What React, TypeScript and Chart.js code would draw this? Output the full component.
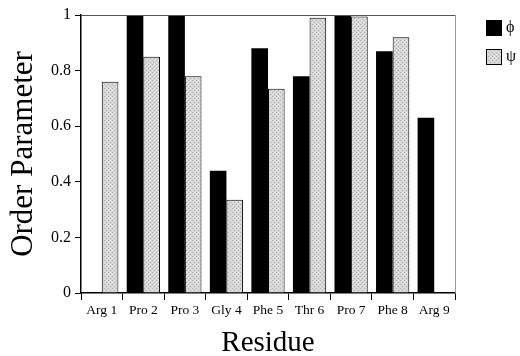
import React, { useEffect, useRef } from "react";
import { Chart, registerables } from "chart.js";

Chart.register(...registerables);

const residues = ["Arg 1", "Pro 2", "Pro 3", "Gly 4", "Phe 5", "Thr 6", "Pro 7", "Phe 8", "Arg 9"];
const phiValues: (number | null)[] = [null, 1.0, 1.0, 0.44, 0.88, 0.78, 1.0, 0.87, 0.63];
const psiValues: (number | null)[] = [0.76, 0.85, 0.78, 0.335, 0.735, 0.99, 0.995, 0.92, null];
const seriesLabels = ["ϕ", "ψ"];
const yTickValues = [0, 0.2, 0.4, 0.6, 0.8, 1];

const SERIF = "'Liberation Serif', 'Times New Roman', serif";

function makePattern(): CanvasPattern | string {
  const c = document.createElement("canvas");
  c.width = 4;
  c.height = 4;
  const ctx = c.getContext("2d");
  if (!ctx) return "#c8c8c8";
  ctx.fillStyle = "#d6d6d6";
  ctx.fillRect(0, 0, 4, 4);
  ctx.fillStyle = "#b0b0b0";
  ctx.fillRect(0, 0, 1, 1);
  ctx.fillRect(2, 2, 1, 1);
  ctx.fillStyle = "#e8e8e8";
  ctx.fillRect(2, 0, 1, 1);
  ctx.fillRect(0, 2, 1, 1);
  const p = ctx.createPattern(c, "repeat");
  return p || "#c8c8c8";
}

export default function App() {
  const ref = useRef<HTMLCanvasElement | null>(null);

  useEffect(() => {
    document.body.style.margin = "0";
    const canvas = ref.current;
    if (!canvas) return;
    const psiFill = makePattern();

    const framePlugin = {
      id: "frameAndLegend",
      afterDraw(chart: any) {
        const { ctx, chartArea } = chart;
        ctx.save();
        ctx.strokeStyle = "#555";
        ctx.lineWidth = 1;
        ctx.beginPath();
        ctx.moveTo(chartArea.left, chartArea.top + 0.5);
        ctx.lineTo(chartArea.right, chartArea.top + 0.5);
        ctx.stroke();
        ctx.strokeStyle = "#999";
        ctx.beginPath();
        ctx.moveTo(chartArea.right + 0.5, chartArea.top);
        ctx.lineTo(chartArea.right + 0.5, chartArea.bottom);
        ctx.stroke();

        const x0 = chartArea.right + 31;
        const ys = [20, 49];
        chart.data.datasets.forEach((ds: any, i: number) => {
          const y = ys[i];
          ctx.fillStyle = ds.backgroundColor;
          ctx.fillRect(x0, y, 16, 16);
          ctx.strokeStyle = "#000";
          ctx.lineWidth = 1;
          ctx.strokeRect(x0 + 0.5, y + 0.5, 15, 15);
          ctx.fillStyle = "#000";
          ctx.font = `16px ${SERIF}`;
          ctx.textBaseline = "middle";
          ctx.textAlign = "left";
          ctx.fillText(ds.label, x0 + 20, y + 8);
        });
        ctx.restore();
      },
    };

    const chart = new Chart(canvas, {
      type: "bar",
      data: {
        labels: residues,
        datasets: [
          {
            label: seriesLabels[0],
            data: phiValues,
            backgroundColor: "#000",
            borderColor: "#000",
            borderWidth: 0,
          },
          {
            label: seriesLabels[1],
            data: psiValues,
            backgroundColor: psiFill as any,
            borderColor: "#000",
            borderWidth: 1,
          },
        ],
      },
      options: {
        animation: false,
        responsive: false,
        maintainAspectRatio: false,
        layout: { padding: { top: 15, right: 65, left: 0, bottom: 0 } },
        datasets: { bar: { barPercentage: 1, categoryPercentage: 0.8 } },
        plugins: {
          legend: { display: false },
          tooltip: { enabled: false },
        },
        scales: {
          x: {
            afterFit: (s: any) => {
              s.height = 63;
            },
            grid: {
              display: true,
              drawOnChartArea: false,
              drawTicks: true,
              tickLength: 7,
              offset: true,
              color: "#000",
              lineWidth: 1,
            },
            border: { display: true, color: "#000", width: 1.5 },
            ticks: {
              color: "#000",
              font: { family: SERIF, size: 13.5 },
              padding: 2,
              maxRotation: 0,
              autoSkip: false,
            },
            title: {
              display: true,
              text: "Residue",
              color: "#000",
              font: { family: SERIF, size: 29, lineHeight: 0.9 },
              padding: { top: 0, bottom: 0 },
            },
          },
          y: {
            min: 0,
            max: 1,
            afterFit: (s: any) => {
              s.width = 81;
            },
            afterBuildTicks: (s: any) => {
              s.ticks = yTickValues.map((v) => ({ value: v }));
            },
            grid: {
              display: true,
              drawOnChartArea: false,
              drawTicks: true,
              tickLength: 6,
              color: "#000",
              lineWidth: 1,
            },
            border: { display: true, color: "#000", width: 1.5 },
            ticks: {
              color: "#000",
              font: { family: SERIF, size: 16 },
              padding: 4,
              callback: (v: any) => String(Number(Number(v).toFixed(1))),
            },
            title: {
              display: true,
              text: "Order Parameter",
              color: "#000",
              font: { family: SERIF, size: 31 },
              padding: { top: 5, bottom: 0 },
            },
          },
        },
      },
      plugins: [framePlugin],
    });

    return () => chart.destroy();
  }, []);

  return (
    <div style={{ position: "relative", width: 520, height: 356 }}>
      <canvas ref={ref} width={520} height={356} style={{ display: "block", width: 520, height: 356 }} />
    </div>
  );
}
